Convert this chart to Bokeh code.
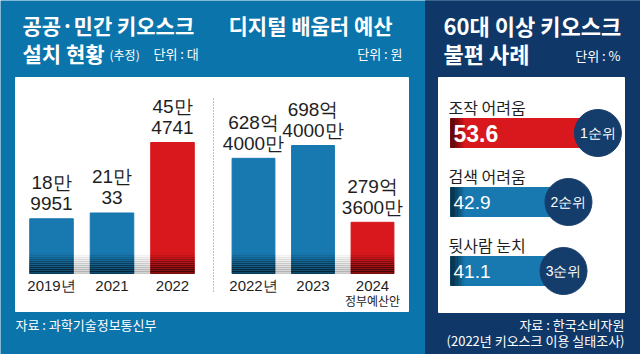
from bokeh.plotting import figure
from bokeh.models import Range1d, Label
from bokeh.core.properties import value
from bokeh.embed import file_html
from bokeh.resources import INLINE

# ---------------- data ----------------
kiosk_years = ["2019년", "2021", "2022"]
kiosk_units = [189951, 210033, 454741]          # 대
budget_years = ["2022년", "2023", "2024"]
budget_sub = ["", "", "정부예산안"]
budget_manwon = [6284000, 6984000, 2793600]     # 만원
issue_labels = ["조작 어려움", "검색 어려움", "뒷사람 눈치"]
issue_pct = [53.6, 42.9, 41.1]
issue_rank = ["1순위", "2순위", "3순위"]

# ---------------- styles ----------------
W, H = 640, 354
BLUE_BG = "#0b74ab"
NAVY = "#0f3868"
CIRCLE = "#153d6b"
BAR_BLUE = "#1878b0"
RED = "#d8181c"
INK = "#1e1e1e"
KR = "Noto Sans CJK KR"
SANS = "Liberation Sans"

p = figure(width=W, height=H, x_range=Range1d(0, W), y_range=Range1d(H, 0),
           output_backend="svg", toolbar_location=None, min_border=0,
           x_axis_location=None, y_axis_location=None)
p.outline_line_color = None
p.grid.visible = False
p.background_fill_color = BLUE_BG
p.border_fill_color = BLUE_BG


def y_up_range(base_px, px_per_unit):
    return Range1d(-(H - base_px) / px_per_unit, base_px / px_per_unit)


def x_range_at(origin_px, px_per_unit):
    return Range1d(-origin_px / px_per_unit, (W - origin_px) / px_per_unit)


# ---------------- panels ----------------
p.quad(left=[425], right=[W], top=[0], bottom=[H], color=NAVY)
p.quad(left=[15], right=[408], top=[77], bottom=[311], color="white")
p.quad(left=[438], right=[624], top=[77], bottom=[312], color="white")
p.segment(x0=[213], y0=[98], x1=[213], y1=[292], line_dash="1 2",
          line_color="#5f8db5", line_width=1)

# ---------------- vertical bar panels ----------------
BASE = 273
GRAD_PX = 20
N = 10


def vertical_panel(name, cats, subs, vals, top_lbl, bot_lbl, center0, step, kpx):
    xr, yr = name + "_x", name + "_y"
    p.extra_x_ranges[xr] = x_range_at(center0, step)
    p.extra_y_ranges[yr] = y_up_range(BASE, kpx)
    idx = list(range(len(vals)))
    w = 0.72
    gh = GRAD_PX / kpx
    for j in range(N):
        p.quad(left=[idx[0]], right=[idx[-1]], bottom=[j * gh / N], top=[(j + 1) * gh / N],
               color="#a8a8a8", alpha=0.55 * (1 - (j + 0.5) / N),
               x_range_name=xr, y_range_name=yr)
    colors = [BAR_BLUE] * (len(vals) - 1) + [RED]
    p.vbar(x=idx, top=vals, width=w, bottom=0, color=colors,
           x_range_name=xr, y_range_name=yr)
    for j in range(N):
        p.quad(left=[i - w / 2 for i in idx], right=[i + w / 2 for i in idx],
               bottom=[j * gh / N] * len(idx), top=[(j + 1) * gh / N] * len(idx),
               color="black", alpha=0.38 * (1 - (j + 0.5) / N),
               x_range_name=xr, y_range_name=yr)
    p.text(x=idx, y=vals, text=top_lbl, y_offset=-36, text_align="center",
           text_baseline="middle", text_font=value(SANS), text_font_size="19px",
           text_color=INK, x_range_name=xr, y_range_name=yr)
    p.text(x=idx, y=vals, text=bot_lbl, y_offset=-15, text_align="center",
           text_baseline="middle", text_font=value(SANS), text_font_size="19px",
           text_color=INK, x_range_name=xr, y_range_name=yr)
    p.text(x=idx, y=[0] * len(idx), text=cats, y_offset=12, text_align="center",
           text_baseline="middle", text_font=value(SANS), text_font_size="15px",
           text_color=INK, x_range_name=xr, y_range_name=yr)
    p.text(x=idx, y=[0] * len(idx), text=subs, y_offset=27, text_align="center",
           text_baseline="middle", text_font=value(KR), text_font_size="12px",
           text_color=INK, x_range_name=xr, y_range_name=yr)


vertical_panel("kiosk", kiosk_years, [""] * 3, kiosk_units,
               [f"{v // 10000}만" for v in kiosk_units],
               [f"{v % 10000}" for v in kiosk_units],
               51, 60.5, 131 / max(kiosk_units))
vertical_panel("budget", budget_years, budget_sub, budget_manwon,
               [f"{v // 10000}억" for v in budget_manwon],
               [f"{v % 10000}만" for v in budget_manwon],
               253, 59.5, 128 / max(budget_manwon))

# ---------------- horizontal bars ----------------
p.extra_x_ranges["iss_x"] = x_range_at(450, 2.75)
p.extra_y_ranges["iss_y"] = Range1d((H - 132.5) / 69, -132.5 / 69)
rows = list(range(len(issue_pct)))
hcol = [RED] + [BAR_BLUE] * (len(issue_pct) - 1)
bh = 0.42
p.hbar(y=rows, left=0, right=issue_pct, height=bh, color=hcol,
       x_range_name="iss_x", y_range_name="iss_y")
edge = 14 / 2.75
for j in range(N):
    p.quad(left=[j * edge / N] * 3, right=[(j + 1) * edge / N] * 3,
           top=[r - bh / 2 for r in rows], bottom=[r + bh / 2 for r in rows],
           color="black", alpha=0.35 * (1 - (j + 0.5) / N),
           x_range_name="iss_x", y_range_name="iss_y")
p.scatter(x=issue_pct, y=rows, size=47, color=CIRCLE,
          x_range_name="iss_x", y_range_name="iss_y")
p.text(x=issue_pct, y=rows, text=issue_rank, text_align="center",
       text_baseline="middle", text_font=value(SANS), text_font_size="14px",
       text_color="white", x_range_name="iss_x", y_range_name="iss_y")
p.text(x=[0] * 3, y=[r - 0.37 for r in rows], text=issue_labels, x_offset=-2,
       text_align="left", text_baseline="middle", text_font=value(KR),
       text_font_size="16px", text_color=INK,
       x_range_name="iss_x", y_range_name="iss_y")
p.text(x=[0], y=rows[:1], text=[f"{issue_pct[0]:.1f}"], x_offset=3,
       text_align="left", text_baseline="middle", text_font=value(SANS),
       text_font_size="23px", text_font_style="bold", text_color="white",
       x_range_name="iss_x", y_range_name="iss_y")
p.text(x=[0] * 2, y=rows[1:], text=[f"{v:.1f}" for v in issue_pct[1:]], x_offset=3,
       text_align="left", text_baseline="middle", text_font=value(SANS),
       text_font_size="19px", text_color="white",
       x_range_name="iss_x", y_range_name="iss_y")

# ---------------- titles & notes ----------------
def lab(x, y, t, size, bold=False, align="left", color="white", font=KR):
    p.add_layout(Label(x=x, y=y, text=t, text_font=font, text_font_size=size,
                       text_font_style="bold" if bold else "normal",
                       text_align=align, text_baseline="middle", text_color=color))


lab(22, 24, "공공·민간 키오스크", "21px", True)
lab(22, 52, "설치 현황", "21px", True)
lab(109, 54, "(추정)", "12px")
lab(153, 53, "단위 : 대", "13px")
lab(228, 24, "디지털 배움터 예산", "21px", True)
lab(402, 53, "단위 : 원", "13px", align="right")
lab(443, 24, "60대 이상 키오스크", "22px", True)
lab(443, 52, "불편 사례", "22px", True)
lab(620, 55, "단위 : %", "13px", align="right")
lab(15, 324, "자료 : 과학기술정보통신부", "13px")
lab(624, 324, "자료 : 한국소비자원", "13px", align="right")
lab(624, 340, "(2022년 키오스크 이용 실태조사)", "13px", align="right")

open("out.html", "w").write(file_html(p, INLINE))
